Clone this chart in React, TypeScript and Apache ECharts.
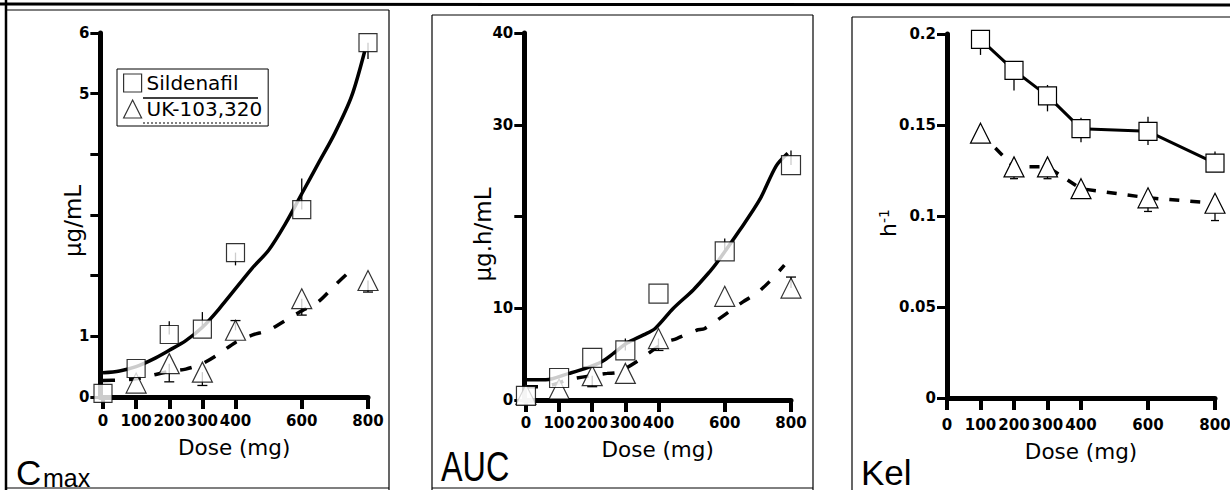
import React, { useEffect, useRef } from 'react';
import * as echarts from 'echarts';

// ---------- data ----------
const doses = [0, 100, 200, 300, 400, 600, 800];
const doseTicks = [0, 100, 200, 300, 400, 600, 800];

// Cmax (µg/mL)
const cmaxSildenafil = [0.06, 0.47, 1.03, 1.12, 2.38, 3.09, 5.84];
const cmaxUK = [null, 0.23, 0.55, 0.41, 1.10, 1.62, 1.92];
const cmaxSildFitDose = [0, 50, 100, 150, 200, 250, 300, 350, 450, 500, 550, 600, 650, 700, 750, 790];
const cmaxSildFit = [0.40, 0.43, 0.50, 0.62, 0.77, 0.93, 1.15, 1.45, 2.12, 2.42, 2.85, 3.35, 3.85, 4.35, 4.95, 5.70];
const cmaxUKFitDose = [0, 50, 100, 150, 200, 250, 300, 350, 400, 450, 500, 550, 600, 650, 700, 750];
const cmaxUKFit = [0.27, 0.28, 0.30, 0.36, 0.42, 0.46, 0.55, 0.71, 0.90, 1.02, 1.10, 1.26, 1.42, 1.57, 1.84, 2.10];
const cmaxSildErr = [[200, 1.03, 1.25], [300, 1.12, 1.40], [400, 2.38, 2.17], [600, 3.09, 3.60], [800, 5.84, 5.57]];
const cmaxUKErr = [[200, 0.55, 0.25], [300, 0.41, 0.19], [400, 1.10, 1.26], [600, 1.62, 1.35], [800, 1.92, 1.73]];
const cmaxYTicks = [0, 1, 2, 3, 4, 5, 6];
const cmaxYLabels = [0, 1, 5, 6];

// AUC (µg.h/mL)
const aucSildenafil = [0.45, 2.4, 4.6, 5.4, 11.6, 16.2, 25.6];
const aucUK = [0.6, 1.2, 2.65, 2.9, 6.7, 11.3, 12.2];
const aucSildFitDose = [0, 60, 130, 180, 230, 265, 305, 355, 390, 445, 505, 555, 575, 645, 705, 755, 790];
const aucSildFit = [2.2, 2.2, 2.9, 3.45, 4.2, 5.1, 6.2, 7.1, 7.8, 10.0, 12.0, 14.0, 14.9, 18.5, 21.8, 25.5, 26.9];
const aucUKFitDose = [0, 50, 95, 125, 245, 275, 335, 415, 455, 515, 540, 655, 695, 735, 780];
const aucUKFit = [1.45, 1.45, 1.8, 2.2, 2.9, 3.0, 4.2, 6.2, 6.7, 7.6, 7.8, 10.7, 11.6, 12.9, 14.7];
const aucSildErr = [[300, 5.4, 6.7], [600, 16.2, 17.6], [800, 25.6, 27.2]];
const aucUKErr = [[200, 2.65, 1.45], [400, 6.7, 5.4], [800, 12.2, 13.4]];
const aucYTicks = [0, 10, 20, 30, 40];
const aucYLabels = [0, 10, 30, 40];

// Kel (h-1)
const kelDoses = [100, 200, 300, 400, 600, 800];
const kelSildenafil = [0.197, 0.180, 0.166, 0.148, 0.1465, 0.129];
const kelUK = [0.1455, 0.127, 0.127, 0.115, 0.110, 0.107];
const kelSildErr = [[100, 0.197, 0.1885], [200, 0.180, 0.169], [300, 0.166, 0.1575], [300, 0.166, 0.172], [400, 0.148, 0.1405], [400, 0.148, 0.154], [600, 0.1465, 0.139], [600, 0.1465, 0.1545], [800, 0.129, 0.1355]];
const kelUKErr = [[200, 0.127, 0.1205], [300, 0.127, 0.1205], [600, 0.110, 0.1025], [800, 0.107, 0.0975]];
const kelYTicks = [0, 0.05, 0.1, 0.15, 0.2];

// ---------- helpers ----------
const BLACK = '#000';
const TICK_FONT = 'DejaVu Sans';
const LABEL_FONT = 'DejaVu Sans';
const TITLE_FONT = 'Liberation Sans';

const pairs = (xs: number[], ys: (number | null)[]) =>
  xs.map((x, i) => [x, ys[i]]).filter((p) => p[1] !== null);

const markerStyle = { color: '#fff', borderColor: BLACK, borderWidth: 1.2 };

const errRender = (cap: number) => (_params: any, api: any) => {
  const x = api.value(0);
  const p1 = api.coord([x, api.value(1)]);
  const p2 = api.coord([x, api.value(2)]);
  const style = { stroke: BLACK, lineWidth: 1.3 };
  const children: any[] = [
    { type: 'line', shape: { x1: p1[0], y1: p1[1], x2: p2[0], y2: p2[1] }, style },
  ];
  if (cap > 0) {
    children.push({ type: 'line', shape: { x1: p2[0] - cap, y1: p2[1], x2: p2[0] + cap, y2: p2[1] }, style });
  }
  return { type: 'group', children };
};

const xAxisFor = (gridIndex: number, min: number, labelMargin: number, nameGap: number) => ({
  type: 'value',
  gridIndex,
  min,
  max: 800,
  axisLine: { show: true, onZero: false, lineStyle: { color: BLACK, width: 5 } },
  axisTick: { show: true, customValues: doseTicks, length: 12, lineStyle: { color: BLACK, width: 4 } },
  axisLabel: {
    show: true,
    customValues: doseTicks,
    margin: labelMargin,
    fontFamily: TICK_FONT,
    fontWeight: 'bold',
    fontSize: 15,
    color: BLACK,
  },
  splitLine: { show: false },
  name: 'Dose (mg)',
  nameLocation: 'middle',
  nameGap,
  nameMoveOverlap: false,
  nameTextStyle: { fontFamily: LABEL_FONT, fontSize: 21.5, color: BLACK },
});

const yAxisFor = (
  gridIndex: number,
  max: number,
  ticks: number[],
  labels: number[],
  name: string,
  nameGap: number,
  shiftDown: number,
  extraNameStyle: any = {}
) => ({
  type: 'value',
  gridIndex,
  min: 0,
  max,
  axisLine: { show: true, onZero: false, lineStyle: { color: BLACK, width: 5 } },
  axisTick: { show: true, customValues: ticks, length: 10, lineStyle: { color: BLACK, width: 3 } },
  axisLabel: {
    show: true,
    customValues: labels,
    margin: 11,
    fontFamily: TICK_FONT,
    fontWeight: 'bold',
    fontSize: 15,
    color: BLACK,
  },
  splitLine: { show: false },
  name,
  nameLocation: 'middle',
  nameGap,
  nameMoveOverlap: false,
  nameTextStyle: {
    fontFamily: LABEL_FONT,
    fontSize: 23,
    color: BLACK,
    padding: [0, shiftDown * 2, 0, 0],
    ...extraNameStyle,
  },
});

const panelSeries = (
  idx: number,
  sild: (number | null)[],
  uk: (number | null)[],
  sFitX: number[],
  sFit: number[],
  uFitX: number[],
  uFit: number[],
  sErr: number[][],
  uErr: number[][],
  suffix: string,
  squareSize: number
) => [
  {
    type: 'custom',
    name: 'Sildenafil SD ' + suffix,
    xAxisIndex: idx,
    yAxisIndex: idx,
    renderItem: errRender(0),
    data: sErr,
    encode: { x: 0, y: [1, 2] },
    z: 1,
    silent: true,
  },
  {
    type: 'custom',
    name: 'UK-103,320 SD ' + suffix,
    xAxisIndex: idx,
    yAxisIndex: idx,
    renderItem: errRender(5),
    data: uErr,
    encode: { x: 0, y: [1, 2] },
    z: 1,
    silent: true,
  },
  {
    type: 'line',
    name: 'Sildenafil fit ' + suffix,
    xAxisIndex: idx,
    yAxisIndex: idx,
    data: pairs(sFitX, sFit),
    smooth: 0.3,
    symbol: 'none',
    clip: false,
    lineStyle: { color: BLACK, width: 3.5 },
    z: 2,
    silent: true,
  },
  {
    type: 'line',
    name: 'UK-103,320 fit ' + suffix,
    xAxisIndex: idx,
    yAxisIndex: idx,
    data: pairs(uFitX, uFit),
    smooth: 0.3,
    symbol: 'none',
    clip: false,
    lineStyle: { color: BLACK, width: 3.5, type: [12, 14] },
    z: 2,
    silent: true,
  },
  {
    type: 'scatter',
    name: idx === 0 ? 'Sildenafil' : 'Sildenafil ' + suffix,
    xAxisIndex: idx,
    yAxisIndex: idx,
    data: pairs(doses, sild),
    symbol: 'rect',
    symbolSize: squareSize,
    clip: false,
    itemStyle: markerStyle,
    z: 5,
    silent: true,
  },
  {
    type: 'scatter',
    name: idx === 0 ? 'UK-103,320' : 'UK-103,320 ' + suffix,
    xAxisIndex: idx,
    yAxisIndex: idx,
    data: pairs(doses, uk),
    symbol: 'triangle',
    symbolSize: 20,
    clip: false,
    itemStyle: markerStyle,
    z: 4,
    silent: true,
  },
];

const line = (x1: number, y1: number, x2: number, y2: number, w: number, dash?: number[]) => ({
  type: 'line',
  shape: { x1, y1, x2, y2 },
  style: { stroke: BLACK, lineWidth: w, lineDash: dash },
  silent: true,
  z: 100,
});

export default function App() {
  const ref = useRef<HTMLDivElement>(null);

  useEffect(() => {
    if (!ref.current) return;
    const chart = echarts.init(ref.current, null, { renderer: 'svg' });

    const option: any = {
      animation: false,
      backgroundColor: '#fff',
      textStyle: { fontFamily: LABEL_FONT, color: BLACK },
      grid: [
        { left: 100.35, top: 33, width: 267.65, height: 364, outerBoundsMode: 'none', containLabel: false },
        { left: 524.3, top: 33, width: 266.7, height: 367, outerBoundsMode: 'none', containLabel: false },
        { left: 947, top: 34, width: 268, height: 364, outerBoundsMode: 'none', containLabel: false },
      ],
      xAxis: [xAxisFor(0, -8, 16, 39), xAxisFor(1, -5, 15, 38), xAxisFor(2, 0, 19, 42)],
      yAxis: [
        yAxisFor(0, 6, cmaxYTicks, cmaxYLabels, 'µg/mL', 16, 6),
        yAxisFor(1, 40, aucYTicks, aucYLabels, 'µg.h/mL', 30, 18),
        yAxisFor(2, 0.2, kelYTicks, kelYTicks, '{h|h}{s|-1}', 48, 7, {
          rich: {
            h: { fontFamily: LABEL_FONT, fontSize: 22, color: BLACK },
            s: { fontFamily: LABEL_FONT, fontSize: 14, color: BLACK, verticalAlign: 'top' },
          },
        }),
      ],
      legend: {
        show: true,
        orient: 'vertical',
        left: 117,
        top: 69,
        padding: [4, 6, 7, 6],
        itemGap: 6,
        itemWidth: 18,
        itemHeight: 18,
        borderColor: BLACK,
        borderWidth: 1,
        borderRadius: 0,
        backgroundColor: '#fff',
        selectedMode: false,
        textStyle: { fontFamily: LABEL_FONT, fontSize: 20, color: BLACK },
        data: [
          { name: 'Sildenafil', icon: 'rect', itemStyle: markerStyle },
          { name: 'UK-103,320', icon: 'triangle', itemStyle: markerStyle },
        ],
      },
      graphic: [
        // frame
        line(0, 4, 1230, 5, 3),
        line(6, 0, 6, 490, 2.5),
        line(6, 10, 389, 10, 1),
        line(389, 10, 389, 490, 1.2),
        line(6, 488, 389, 488, 1.2),
        line(432, 15, 813, 15, 1),
        line(432, 15, 432, 490, 1.2),
        line(813, 15, 813, 490, 1.2),
        line(432, 488, 813, 488, 1),
        line(852, 17, 1230, 17, 1),
        line(852, 17, 852, 490, 1.2),
        // legend line samples
        line(143, 98, 258, 98, 1.5),
        line(143, 123, 262, 123, 1, [2, 2]),
        // panel titles
        {
          type: 'text',
          x: 16,
          y: 489.5,
          silent: true,
          style: { text: 'C', fontFamily: TITLE_FONT, fontSize: 35, fill: BLACK, align: 'left', verticalAlign: 'bottom' },
        },
        {
          type: 'text',
          x: 43,
          y: 490,
          silent: true,
          style: { text: 'max', fontFamily: TITLE_FONT, fontSize: 25, fill: BLACK, align: 'left', verticalAlign: 'bottom' },
        },
        {
          type: 'text',
          x: 441,
          y: 487,
          scaleX: 0.77,
          silent: true,
          style: { text: 'AUC', fontFamily: TITLE_FONT, fontSize: 42, fill: BLACK, align: 'left', verticalAlign: 'bottom' },
        },
        {
          type: 'text',
          x: 861,
          y: 489.5,
          silent: true,
          style: { text: 'Kel', fontFamily: TITLE_FONT, fontSize: 35, fill: BLACK, align: 'left', verticalAlign: 'bottom' },
        },
      ],
      series: [
        ...panelSeries(0, cmaxSildenafil, cmaxUK, cmaxSildFitDose, cmaxSildFit, cmaxUKFitDose, cmaxUKFit, cmaxSildErr, cmaxUKErr, 'Cmax', 18),
        ...panelSeries(1, aucSildenafil, aucUK, aucSildFitDose, aucSildFit, aucUKFitDose, aucUKFit, aucSildErr, aucUKErr, 'AUC', 19),
        {
          type: 'custom',
          name: 'Sildenafil SD Kel',
          xAxisIndex: 2,
          yAxisIndex: 2,
          renderItem: errRender(0),
          data: kelSildErr,
          encode: { x: 0, y: [1, 2] },
          z: 1,
          silent: true,
        },
        {
          type: 'custom',
          name: 'UK-103,320 SD Kel',
          xAxisIndex: 2,
          yAxisIndex: 2,
          renderItem: errRender(4),
          data: kelUKErr,
          encode: { x: 0, y: [1, 2] },
          z: 1,
          silent: true,
        },
        {
          type: 'line',
          name: 'Sildenafil Kel',
          xAxisIndex: 2,
          yAxisIndex: 2,
          data: pairs(kelDoses, kelSildenafil),
          symbol: 'rect',
          symbolSize: 18,
          showAllSymbol: true,
          clip: false,
          itemStyle: markerStyle,
          lineStyle: { color: BLACK, width: 3 },
          z: 3,
          silent: true,
        },
        {
          type: 'line',
          name: 'UK-103,320 Kel',
          xAxisIndex: 2,
          yAxisIndex: 2,
          data: pairs(kelDoses, kelUK),
          symbol: 'triangle',
          symbolSize: 20,
          showAllSymbol: true,
          clip: false,
          itemStyle: markerStyle,
          lineStyle: { color: BLACK, width: 3.5, type: [10, 11] },
          z: 3,
          silent: true,
        },
      ],
    };

    chart.setOption(option);
    return () => chart.dispose();
  }, []);

  return (
    <div
      ref={ref}
      style={{ position: 'absolute', left: 0, top: 0, width: 1230, height: 490, background: '#fff' }}
    />
  );
}
